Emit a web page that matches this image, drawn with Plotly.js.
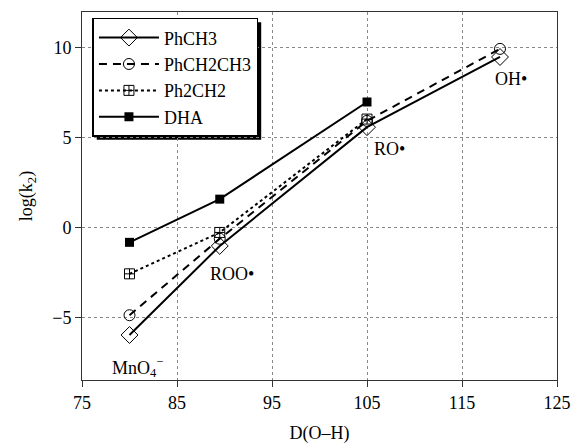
<!DOCTYPE html>
<html><head><meta charset="utf-8">
<script src="https://cdn.plot.ly/plotly-3.0.1.min.js"></script>
<style>html,body{margin:0;padding:0;background:#fff}#g{width:574px;height:445px}</style>
</head><body><div id="g"></div>
<script>
const xPhCH3 = [80, 89.5, 105, 119];
const yPhCH3 = [-5.95, -1.0, 5.6, 9.5];
const xPhCH2CH3 = [80, 89.5, 105, 119];
const yPhCH2CH3 = [-4.85, -0.6, 5.95, 9.95];
const xPh2CH2 = [80, 89.5, 105];
const yPh2CH2 = [-2.55, -0.25, 6.05];
const xDHA = [80, 89.5, 105];
const yDHA = [-0.8, 1.6, 7.0];
const seriesNames = ['PhCH3', 'PhCH2CH3', 'Ph2CH2', 'DHA'];
const labelText = ['MnO<sub>4</sub><sup>\u2212</sup>', 'ROO\u2022', 'RO\u2022', 'OH\u2022'];
const labelX = [80.8, 90.8, 107.4, 120.2];
const labelY = [-7.4, -2.55, 4.4, 8.3];
const labelShift = [-6, 0, 0, 0];

const F = "'Liberation Serif', 'Times New Roman', Times, serif";
const traces = [
  {x: xPhCH3, y: yPhCH3, name: seriesNames[0], mode: 'lines+markers',
   line: {color: '#000', width: 2, dash: 'solid'},
   marker: {symbol: 'diamond-open', size: 13, color: '#000', line: {width: 1}}},
  {x: xPhCH2CH3, y: yPhCH2CH3, name: seriesNames[1], mode: 'lines+markers',
   line: {color: '#000', width: 2, dash: '8px,6px'},
   marker: {symbol: 'circle-open', size: 11, color: '#000', line: {width: 1}}},
  {x: xPh2CH2, y: yPh2CH2, name: seriesNames[2], mode: 'lines+markers',
   line: {color: '#000', width: 2, dash: 'dot'},
   marker: {symbol: 'square-cross-open', size: 10, color: '#000', line: {width: 1}}},
  {x: xDHA, y: yDHA, name: seriesNames[3], mode: 'lines+markers',
   line: {color: '#000', width: 2, dash: 'solid'},
   marker: {symbol: 'square', size: 9, color: '#000'}}
];
const annotations = labelText.map((t, i) => ({
  x: labelX[i], y: labelY[i], xref: 'x', yref: 'y', yshift: labelShift[i],
  text: t, showarrow: false,
  font: {family: F, size: 18, color: '#000'}
}));
const layout = {
  width: 574, height: 445,
  margin: {l: 82, r: 17, t: 12, b: 65},
  paper_bgcolor: '#fff', plot_bgcolor: '#fff',
  font: {family: F, size: 17, color: '#000'},
  xaxis: {range: [75, 125], tickvals: [75, 85, 95, 105, 115, 125],
    showgrid: true, gridcolor: '#888', griddash: 'dot', gridwidth: 1,
    showline: true, linecolor: '#333', linewidth: 1, mirror: true,
    ticks: 'outside', ticklen: 6, tickcolor: '#333', zeroline: false,
    title: {text: 'D(O\u2013H)', font: {family: F, size: 18}, standoff: 14},
    tickfont: {family: F, size: 18}},
  yaxis: {range: [-8.45, 12], tickvals: [-5, 0, 5, 10],
    showgrid: true, gridcolor: '#888', griddash: 'dot', gridwidth: 1,
    showline: true, linecolor: '#333', linewidth: 1, mirror: true,
    ticks: 'outside', ticklen: 6, tickcolor: '#333', zeroline: false,
    title: {text: 'log(k<sub>2</sub>)', font: {family: F, size: 18}, standoff: 14},
    tickfont: {family: F, size: 18}},
  showlegend: true,
  legend: {x: 0.022, y: 0.984, xanchor: 'left', yanchor: 'top',
    bgcolor: '#fff', bordercolor: '#000', borderwidth: 1.5,
    font: {family: F, size: 18}, tracegroupgap: 0, itemwidth: 60},
  annotations: annotations
};
const gd = document.getElementById('g');
Plotly.newPlot(gd, traces, layout, {staticPlot: true}).then(() => {
  const bg = gd.querySelector('.legend .bg');
  if (!bg) return;
  const r = bg.getBoundingClientRect();
  const g0 = gd.getBoundingClientRect();
  const fl = gd._fullLayout;
  const px = v => (v - g0.left - fl._size.l) / fl._size.w;
  const py = v => 1 - (v - g0.top - fl._size.t) / fl._size.h;
  const off = 3.5;
  return Plotly.relayout(gd, {shapes: [{type: 'rect', xref: 'paper', yref: 'paper', layer: 'below',
    x0: px(r.left + off), x1: px(r.right + off), y0: py(r.bottom + off), y1: py(r.top + off),
    fillcolor: '#000', line: {width: 0}}]});
});
</script></body></html>
